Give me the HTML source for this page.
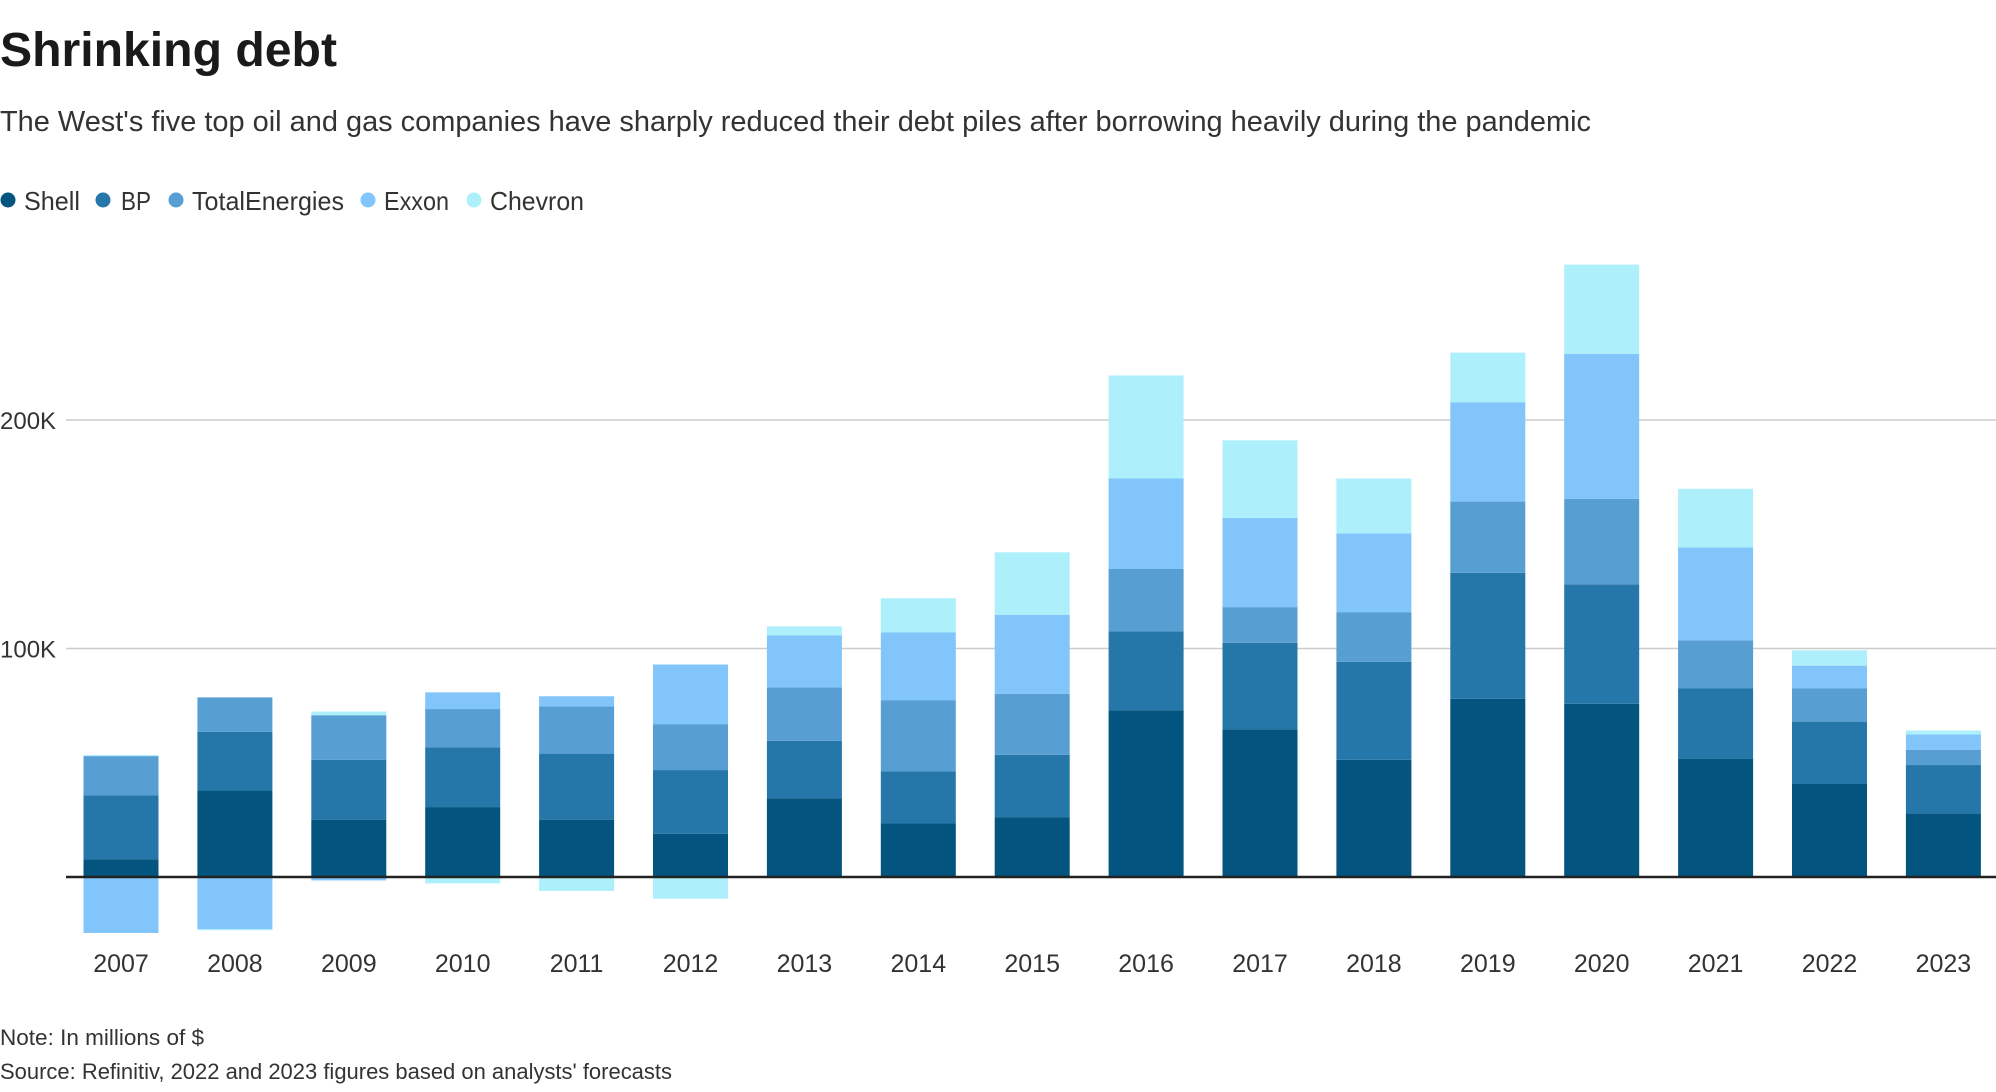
<!DOCTYPE html>
<html><head><meta charset="utf-8"><style>
html,body{margin:0;padding:0;background:#fff;}
svg{display:block;font-family:"Liberation Sans",sans-serif;}
</style></head><body>
<svg id="chart" width="1996" height="1092" viewBox="0 0 1996 1092" xmlns="http://www.w3.org/2000/svg">
<text x="0" y="66" font-size="48" font-weight="bold" fill="#1a1a1a" textLength="337" lengthAdjust="spacingAndGlyphs">Shrinking debt</text>
<text x="0" y="131" font-size="29" fill="#333" textLength="1591" lengthAdjust="spacingAndGlyphs">The West's five top oil and gas companies have sharply reduced their debt piles after borrowing heavily during the pandemic</text>
<g id="legend"></g>
<g id="grid"></g>
<g id="bars"></g>
<g id="xaxis"></g>
<text x="0" y="1045" font-size="22" fill="#333" textLength="204" lengthAdjust="spacingAndGlyphs">Note: In millions of $</text>
<text x="0" y="1079" font-size="22" fill="#333" textLength="672" lengthAdjust="spacingAndGlyphs">Source: Refinitiv, 2022 and 2023 figures based on analysts' forecasts</text>
</svg>
<script>
const years = ["2007","2008","2009","2010","2011","2012","2013","2014","2015","2016","2017","2018","2019","2020","2021","2022","2023"];
const seriesNames = ["Shell","BP","TotalEnergies","Exxon","Chevron"];
const shell = [7.8,37.9,25.1,30.6,25.1,18.9,34.5,23.4,26.2,73,64.6,51.3,78,75.8,51.8,40.7,27.9];
const bp = [27.9,25.6,26.2,26.2,28.9,27.9,25.1,22.8,27.3,34.5,37.9,42.9,55.1,52.3,30.7,27.3,21.1];
const total = [17.2,15.1,19.5,16.7,20.7,20.1,23.4,31.2,26.7,27.3,15.6,21.7,31.2,37.4,21.1,14.5,6.7];
const exxon = [-24.5,-22.8,-1.5,7.3,4.4,26.1,22.8,29.6,34.6,39.6,39,34.5,43.5,63.5,40.7,10,6.7];
const chevron = [0.5,-0.5,1.6,-2.8,-6.1,-9.5,3.9,15,27.3,45.1,34,24,21.7,39,25.6,6.7,1.7];
const yTicks = [100,200];
const yTickLabels = ["100K","200K"];

const colors = ["#03557f","#2577a9","#579ed3","#82c5fa","#adf0fc"];
const NS = "http://www.w3.org/2000/svg";
const zeroY = 877, pxPer = 2.285, x0 = 121, step = 113.9, bw = 75, plotL = 66, plotR = 1996;
function yS(v){ return zeroY - v*pxPer; }
function xS(i){ return x0 + i*step; }
function mk(tag, attrs, parent){ const e=document.createElementNS(NS,tag); for(const k in attrs) e.setAttribute(k,attrs[k]); parent.appendChild(e); return e; }

const grid = document.getElementById('grid');
yTicks.forEach((t,i)=>{
  const l = mk('line',{x1:plotL,x2:plotR,y1:yS(t),y2:yS(t),stroke:'#cccccc','stroke-width':1.5},grid);
  
  
  const tx = mk('text',{x:0,y:yS(t)+9,'font-size':24,fill:'#333'},grid);
  tx.textContent = yTickLabels[i];
  
  
});

const bars = document.getElementById('bars');
const all = [shell,bp,total,exxon,chevron];
years.forEach((yr,i)=>{
  let pos=0, neg=0;
  all.forEach((s,k)=>{
    const v=s[i]; let a,b;
    if(v>=0){a=pos;b=pos+v;pos=b;} else {a=neg;b=neg+v;neg=b;}
    const r = mk('rect',{x:xS(i)-bw/2,y:Math.min(yS(a),yS(b)),width:bw,height:Math.abs(yS(a)-yS(b)),fill:colors[k]},bars);
    
    
  });
});

const xa = document.getElementById('xaxis');
const zl = mk('line',{x1:plotL,x2:plotR,y1:zeroY,y2:zeroY,stroke:'#222','stroke-width':2.5},xa);


years.forEach((yr,i)=>{
  const t = mk('text',{x:xS(i),y:972,'font-size':25,fill:'#333','text-anchor':'middle'},xa);
  t.textContent = yr;
  
  
});

const lg = document.getElementById('legend');
const dotX = [8,103,176,368,474], txtX=[24,121,192,384,490], txtW=[56,30,152,65,94];
seriesNames.forEach((n,k)=>{
  const c = mk('circle',{cx:dotX[k],cy:200,r:7.5,fill:colors[k]},lg);
  
  
  const t = mk('text',{x:txtX[k],y:210,'font-size':26,fill:'#333',textLength:txtW[k],lengthAdjust:'spacingAndGlyphs'},lg);
  t.textContent = n;
  
  
});
</script>
</body></html>
